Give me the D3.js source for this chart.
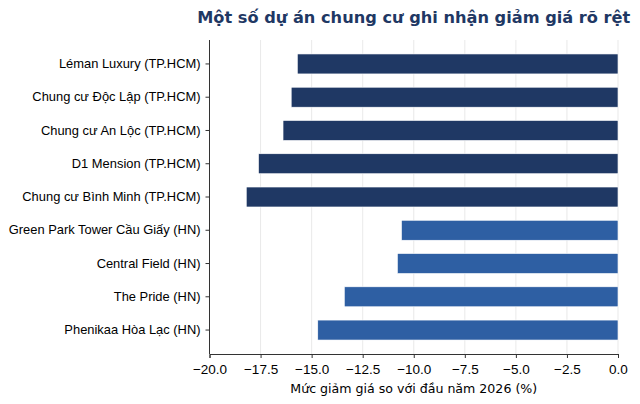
<!DOCTYPE html>
<html>
<head>
<meta charset="utf-8">
<script src="https://cdn.jsdelivr.net/npm/d3@7"></script>
<style>
  body { margin: 0; background: #fff; }
  svg { font-family: "DejaVu Sans", sans-serif; }
  .axis text { fill: #000; }
  .axis path, .axis line { stroke: #333; }
</style>
</head>
<body>
<div id="chart"></div>
<script>
// Projects with clear price drops since the start of 2026
var projects = [
  "Léman Luxury (TP.HCM)",
  "Chung cư Độc Lập (TP.HCM)",
  "Chung cư An Lộc (TP.HCM)",
  "D1 Mension (TP.HCM)",
  "Chung cư Bình Minh (TP.HCM)",
  "Green Park Tower Cầu Giấy (HN)",
  "Central Field (HN)",
  "The Pride (HN)",
  "Phenikaa Hòa Lạc (HN)"
];
var drops = [-15.7, -16.0, -16.4, -17.6, -18.2, -10.6, -10.8, -13.4, -14.7];
var regions = ["HCM", "HCM", "HCM", "HCM", "HCM", "HN", "HN", "HN", "HN"];
var xTicks = [-20, -17.5, -15, -12.5, -10, -7.5, -5, -2.5, 0];

var region_color = { HCM: "#1f3864", HN: "#2e5fa3" };

var data = projects.map(function(p, i) {
  return { name: p, value: drops[i], region: regions[i] };
});

var margin = {top: 40, right: 22, bottom: 50, left: 209.5},
    width = 640 - margin.left - margin.right,
    height = 404 - margin.top - margin.bottom;

var svg = d3.select("#chart").append("svg")
    .attr("width", 640)
    .attr("height", 404);

var g = svg.append("g")
    .attr("transform", "translate(" + margin.left + "," + margin.top + ")");

var x = d3.scaleLinear()
    .domain([-20, 0])
    .range([0, width]);

var y = d3.scaleBand()
    .domain(projects)
    .range([0, height])
    .paddingInner(0.4)
    .paddingOuter(0.42);

// grid
g.append("g")
  .selectAll("line")
  .data(xTicks)
  .enter().append("line")
    .attr("x1", function(d) { return x(d); })
    .attr("x2", function(d) { return x(d); })
    .attr("y1", 0)
    .attr("y2", height)
    .attr("stroke", "#e3e3e3")
    .attr("stroke-width", 0.8);

g.append("g")
  .selectAll("rect")
  .data(data)
  .enter().append("rect")
    .attr("x", function(d) { return x(d.value); })
    .attr("y", function(d) { return y(d.name); })
    .attr("width", function(d) { return x(0) - x(d.value); })
    .attr("height", y.bandwidth())
    .attr("fill", function(d) { return region_color[d.region]; })
    .attr("stroke", "#ffffff")
    .attr("stroke-width", 0.6);

var xAxis = g.append("g")
    .attr("class", "axis")
    .attr("transform", "translate(0," + height + ")")
    .call(d3.axisBottom(x).tickValues(xTicks).tickFormat(d3.format(".1f")).tickSizeOuter(0).tickSize(4).tickPadding(6));
xAxis.attr("font-size", null);
xAxis.selectAll("text").attr("font-size", 13.5);

var yAxis = g.append("g")
    .attr("class", "axis")
    .call(d3.axisLeft(y).tickSizeOuter(0).tickSize(4).tickPadding(5));
yAxis.attr("font-size", null);
yAxis.selectAll("text").attr("font-size", 12.9);
yAxis.select(".domain").attr("d", "M0,0V" + height);

g.append("text")
    .attr("x", width / 2)
    .attr("y", height + 39)
    .attr("text-anchor", "middle")
    .attr("font-size", 12.6)
    .attr("fill", "#000")
    .text("Mức giảm giá so với đầu năm 2026 (%)");

svg.append("text")
    .attr("x", margin.left + width / 2)
    .attr("y", 23)
    .attr("text-anchor", "middle")
    .attr("font-size", 16.2)
    .attr("font-weight", "bold")
    .attr("fill", "#1f3864")
    .text("Một số dự án chung cư ghi nhận giảm giá rõ rệt");
</script>
</body>
</html>
